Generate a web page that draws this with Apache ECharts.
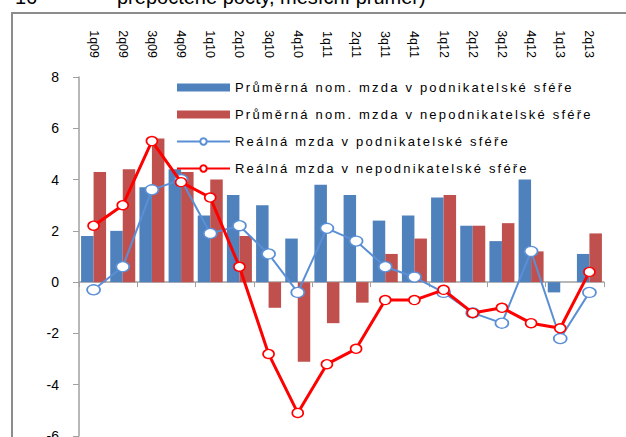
<!DOCTYPE html>
<html>
<head>
<meta charset="utf-8">
<script src="https://cdn.jsdelivr.net/npm/echarts@6/dist/echarts.min.js"></script>
<style>
  html, body { margin: 0; padding: 0; background: #fff; }
  #chart_container { width: 626px; height: 437px; }
</style>
</head>
<body>
<div id="chart_container"></div>
<script>
const quarters = ["1q09", "2q09", "3q09", "4q09", "1q10", "2q10", "3q10", "4q10", "1q11", "2q11",
                  "3q11", "4q11", "1q12", "2q12", "3q12", "4q12", "1q13", "2q13"];

const series_names = [
    "Průměrná nom. mzda v podnikatelské sféře",
    "Průměrná nom. mzda v nepodnikatelské sféře",
    "Reálná mzda v podnikatelské sféře",
    "Reálná mzda v nepodnikatelské sféře"
];

// nominal wage growth (bars)
const nom_podnik = [1.8, 2.0, 3.7, 4.4, 2.6, 3.4, 3.0, 1.7, 3.8, 3.4, 2.4, 2.6, 3.3, 2.2, 1.6, 4.0, -0.4, 1.1];
const nom_nepodnik = [4.3, 4.4, 5.6, 4.3, 4.0, 1.8, -1.0, -3.1, -1.6, -0.8, 1.1, 1.7, 3.4, 2.2, 2.3, 1.2, 0, 1.9];

// real wage growth (lines)
const real_podnik = [-0.3, 0.6, 3.6, 4.0, 1.9, 2.2, 1.1, -0.4, 2.1, 1.6, 0.6, 0.2, -0.4, -1.2, -1.6, 1.2, -2.2, -0.4];
const real_nepodnik = [2.2, 3.0, 5.5, 3.9, 3.3, 0.6, -2.8, -5.1, -3.2, -2.6, -0.7, -0.7, -0.3, -1.2, -1.0, -1.6, -1.8, 0.4];

const y_ticks = { min: -6, max: 8, interval: 2 };

document.addEventListener("DOMContentLoaded", function () {

    let chart_container = document.getElementById('chart_container');
    var chart = echarts.init(chart_container, null, { renderer: 'svg' });

    const txt = "#000000";
    const axis_gray = "#a0a0a0";

    var option = {
        animation: false,
        backgroundColor: "#ffffff",
        textStyle: { fontFamily: "Arial, 'Liberation Sans', sans-serif" },

        graphic: [
            // frame around the figure
            { type: "polyline", shape: { points: [[12, 437], [12, 13], [626, 13]] },
              style: { stroke: "#8c8c8c", lineWidth: 2, fill: null } },
            // cut-off heading above the frame
            { type: "text", left: 15, top: -13,
              style: { text: "16", font: "20px Arial, 'Liberation Sans'", fill: txt } },
            { type: "text", left: 117, top: -13,
              style: { text: "přepočtené počty, měsíční průměr)", font: "20px Arial, 'Liberation Sans'", fill: txt } }
        ],

        grid: { left: 79, right: 22, top: 77, bottom: 1, outerBoundsMode: "none" },

        legend: {
            orient: "vertical",
            left: 171,
            top: 76,
            itemWidth: 53,
            itemHeight: 8,
            itemGap: 14,
            textStyle: { fontSize: 13, color: txt, fontFamily: "'Liberation Sans', Arial" },
            data: [
                { name: series_names[0], icon: "rect" },
                { name: series_names[1], icon: "rect" },
                { name: series_names[2] },
                { name: series_names[3] }
            ]
        },

        xAxis: [
            {
                // zero line with ticks
                type: "category",
                data: quarters,
                position: "bottom",
                axisLine: { onZero: true, lineStyle: { color: axis_gray, width: 1.5 } },
                axisTick: { show: true, inside: false, length: 5, lineStyle: { color: axis_gray } },
                axisLabel: { show: false },
                splitLine: { show: false }
            },
            {
                // quarter labels on top
                type: "category",
                data: quarters,
                position: "top",
                axisLine: { show: false, onZero: false },
                axisTick: { show: false },
                axisLabel: { rotate: 90, fontSize: 12.5, color: txt, margin: 19, interval: 0 },
                splitLine: { show: false }
            }
        ],

        yAxis: {
            type: "value",
            min: y_ticks.min,
            max: y_ticks.max,
            interval: y_ticks.interval,
            axisLine: { show: true, lineStyle: { color: axis_gray, width: 1.5 } },
            axisTick: { show: true, length: 6, lineStyle: { color: axis_gray } },
            axisLabel: { fontSize: 14, color: txt, margin: 20 },
            splitLine: { show: false }
        },

        series: [
            {
                name: series_names[0], type: "bar", data: nom_podnik,
                barWidth: 12.5, barGap: "0%",
                itemStyle: { color: "#4f81bd" }
            },
            {
                name: series_names[1], type: "bar", data: nom_nepodnik,
                barWidth: 12.5, barGap: "0%",
                itemStyle: { color: "#c0504d" }
            },
            {
                name: series_names[2], type: "line", data: real_podnik,
                symbol: "circle", symbolSize: [13, 10],
                lineStyle: { color: "#5a8fd6", width: 2 },
                itemStyle: { color: "#ffffff", borderColor: "#5a8fd6", borderWidth: 1.5 },
                z: 3
            },
            {
                name: series_names[3], type: "line", data: real_nepodnik,
                symbol: "circle", symbolSize: [11, 9],
                lineStyle: { color: "#ff0000", width: 3 },
                itemStyle: { color: "#ffffff", borderColor: "#ff0000", borderWidth: 1.5 },
                z: 4
            }
        ]
    };

    if (chart) {
        chart.setOption(option);
        // the legend text in the original is widely spaced
        chart_container.querySelectorAll("text").forEach(function (t) {
            if (series_names.indexOf(t.textContent) >= 0) {
                t.style.letterSpacing = "2.2px";
            }
        });
    } else {
        console.error("Echart instance failed to init");
    }
});
</script>
</body>
</html>
